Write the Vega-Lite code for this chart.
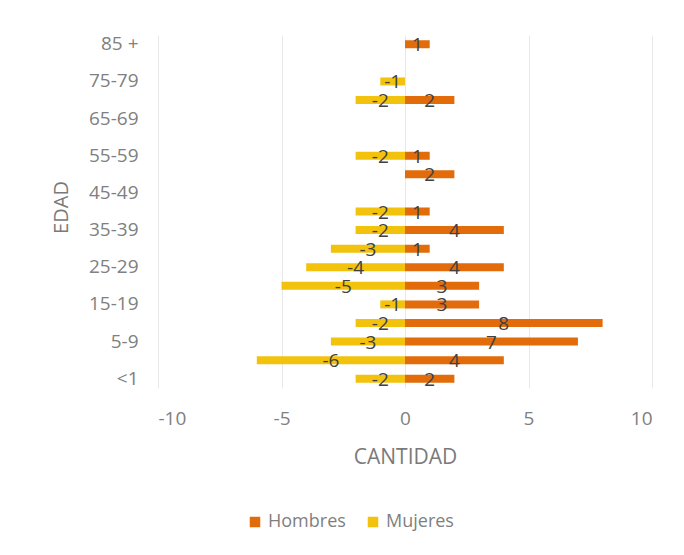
{
  "$schema": "https://vega.github.io/schema/vega-lite/v6.json",
  "width": 494,
  "height": 353,
  "autosize": "none",
  "padding": {"left": 158, "top": 35, "right": 32, "bottom": 167},
  "background": "white",
  "config": {
    "font": "Open Sans",
    "view": {"stroke": null},
    "locale": {"number": {"decimal": ".", "thousands": ",", "grouping": [3], "currency": ["$", ""], "minus": "-"}}
  },
  "data": {
    "values": [
      {"edad": "<1", "sexo": "Hombres", "cantidad": 2},
      {"edad": "<1", "sexo": "Mujeres", "cantidad": -2},
      {"edad": "1-4", "sexo": "Hombres", "cantidad": 4},
      {"edad": "1-4", "sexo": "Mujeres", "cantidad": -6},
      {"edad": "5-9", "sexo": "Hombres", "cantidad": 7},
      {"edad": "5-9", "sexo": "Mujeres", "cantidad": -3},
      {"edad": "10-14", "sexo": "Hombres", "cantidad": 8},
      {"edad": "10-14", "sexo": "Mujeres", "cantidad": -2},
      {"edad": "15-19", "sexo": "Hombres", "cantidad": 3},
      {"edad": "15-19", "sexo": "Mujeres", "cantidad": -1},
      {"edad": "20-24", "sexo": "Hombres", "cantidad": 3},
      {"edad": "20-24", "sexo": "Mujeres", "cantidad": -5},
      {"edad": "25-29", "sexo": "Hombres", "cantidad": 4},
      {"edad": "25-29", "sexo": "Mujeres", "cantidad": -4},
      {"edad": "30-34", "sexo": "Hombres", "cantidad": 1},
      {"edad": "30-34", "sexo": "Mujeres", "cantidad": -3},
      {"edad": "35-39", "sexo": "Hombres", "cantidad": 4},
      {"edad": "35-39", "sexo": "Mujeres", "cantidad": -2},
      {"edad": "40-44", "sexo": "Hombres", "cantidad": 1},
      {"edad": "40-44", "sexo": "Mujeres", "cantidad": -2},
      {"edad": "50-54", "sexo": "Hombres", "cantidad": 2},
      {"edad": "55-59", "sexo": "Hombres", "cantidad": 1},
      {"edad": "55-59", "sexo": "Mujeres", "cantidad": -2},
      {"edad": "70-74", "sexo": "Hombres", "cantidad": 2},
      {"edad": "70-74", "sexo": "Mujeres", "cantidad": -2},
      {"edad": "75-79", "sexo": "Mujeres", "cantidad": -1},
      {"edad": "85 +", "sexo": "Hombres", "cantidad": 1}
    ]
  },
  "encoding": {
    "y": {
      "field": "edad",
      "type": "nominal",
      "sort": null,
      "scale": {
        "domain": ["85 +", "80-84", "75-79", "70-74", "65-69", "60-64", "55-59", "50-54", "45-49", "40-44", "35-39", "30-34", "25-29", "20-24", "15-19", "10-14", "5-9", "1-4", "<1"],
        "paddingInner": 0,
        "paddingOuter": 0
      },
      "axis": {
        "values": ["85 +", "75-79", "65-69", "55-59", "45-49", "35-39", "25-29", "15-19", "5-9", "<1"],
        "title": "EDAD",
        "titleFont": "Open Sans",
        "titleFontSize": 20,
        "titleFontWeight": "normal",
        "titleColor": "#7a7a7a",
        "titleX": -97,
        "titleY": 172,
        "titleAngle": -90,
        "titleAlign": "center",
        "titleBaseline": "middle",
        "labelFontSize": 19,
        "labelColor": "#808080",
        "labelPadding": 20,
        "ticks": false,
        "domain": false,
        "grid": false
      }
    }
  },
  "layer": [
    {
      "mark": {"type": "bar", "size": 8},
      "encoding": {
        "x": {
          "field": "cantidad",
          "type": "quantitative",
          "stack": null,
          "scale": {"domain": [-10, 10], "nice": false},
          "axis": {
            "values": [-10, -5, 0, 5, 10],
            "title": "CANTIDAD",
            "titleFontSize": 21,
            "titleFontWeight": "normal",
            "titleColor": "#7a7a7a",
            "titlePadding": 18,
            "labelFontSize": 19,
            "labelColor": "#808080",
            "labelPadding": 21,
            "ticks": false,
            "domain": false,
            "grid": true,
            "gridColor": "#e8e8e8",
            "gridWidth": 1
          }
        },
        "color": {
          "field": "sexo",
          "type": "nominal",
          "scale": {"domain": ["Hombres", "Mujeres"], "range": ["#E26B0A", "#F2C20C"]},
          "legend": {
            "title": null,
            "orient": "none",
            "direction": "horizontal",
            "legendX": 88,
            "legendY": 478,
            "symbolType": "square",
            "symbolSize": 110,
            "symbolStrokeWidth": 0,
            "labelFontSize": 18,
            "labelColor": "#7f7f7f",
            "labelOffset": 4,
            "columnPadding": 18
          }
        }
      }
    },
    {
      "mark": {"type": "text", "fontSize": 19, "color": "#404040", "align": "center", "baseline": "middle", "dy": 1},
      "encoding": {
        "x": {"field": "cantidad", "type": "quantitative", "stack": "zero", "bandPosition": 0.5},
        "detail": {"field": "sexo"},
        "text": {"field": "cantidad", "type": "quantitative"}
      }
    }
  ]
}
